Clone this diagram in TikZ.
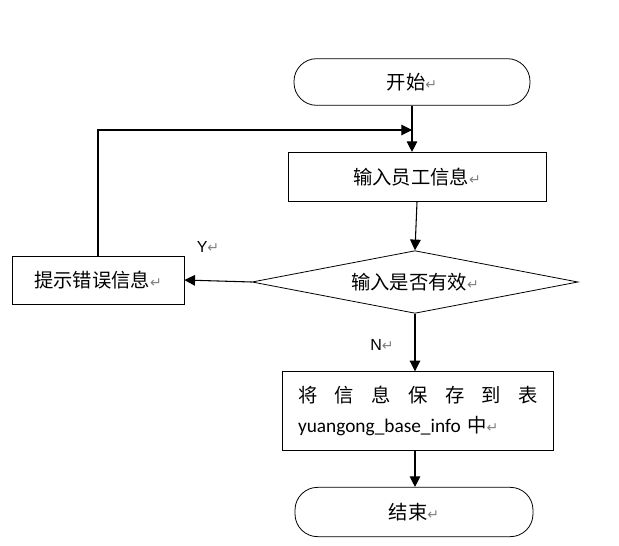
\documentclass[tikz,border=0pt]{standalone}
\usepackage{fontspec}
\setmainfont{Carlito}
\newfontfamily\cjk{Noto Sans CJK SC}
\newfontfamily\arialf{Liberation Sans}
\newfontfamily\symbf{DejaVu Sans}
\usetikzlibrary{arrows.meta,shapes.geometric}
\newcommand{\pmark}{{\symbf\color{gray}\fontsize{10.5}{10.5}\selectfont ↵}}

\begin{document}
\begin{tikzpicture}[x=0.75pt,y=-0.75pt,
  term/.style={draw,rounded corners=17pt,minimum width=177pt,minimum height=35pt,
     font=\cjk\fontsize{14.5}{17}\selectfont,line width=0.6pt},
  proc/.style={draw,rectangle,font=\cjk\fontsize{14.5}{17}\selectfont,line width=0.6pt,inner sep=2pt},
  dec/.style={draw,diamond,aspect=5.2,inner sep=0pt,minimum width=244.5pt,minimum height=47pt,
     font=\cjk\fontsize{14.5}{17}\selectfont,line width=0.6pt},
  lbl/.style={font=\arialf\fontsize{12}{14}\selectfont},
  arr/.style={-{Triangle[length=8pt,width=8pt]},line width=0.8pt}]
\useasboundingbox (0,0) rectangle (619,546);
\node[term] (start) at (412,82) {开始\pmark};
\node[proc,minimum width=193.5pt,minimum height=37pt] (input) at (417,177) {输入员工信息\pmark};
\node[dec] (check) at (415,282) {输入是否有效\pmark};
\node[proc,minimum width=129pt,minimum height=36pt] (err) at (98,280) {提示错误信息\pmark};
\node[proc,minimum width=203pt,minimum height=59pt,text width=180pt,align=left,
  font=\fontsize{14.5}{22}\selectfont] (save) at (418,411)
  {\hbox to 180pt{\cjk 将\hfill 信\hfill 息\hfill 保\hfill 存\hfill 到\hfill 表}\\
   yuangong\_base\_info {\cjk 中}\pmark};
\node[term,minimum width=178.5pt,minimum height=37pt] (stop) at (414,512) {结束\pmark};
\node[lbl] (ylab) at (208,247) {Y\pmark};
\node[lbl] (nlab) at (382,345) {N\pmark};
\coordinate (join) at (412,130);
\draw[arr] (start.south) -- (start.south|-input.north);
\draw[arr] (err.north) |- (join);
\draw[arr] (input.south) -- (check.north);
\draw[arr] (check.west) -- (err.east);
\draw[arr] (check.south) -- (check.south|-save.north);
\draw[arr] (check.south|-save.south) -- (check.south|-stop.north);
\end{tikzpicture}
\end{document}
